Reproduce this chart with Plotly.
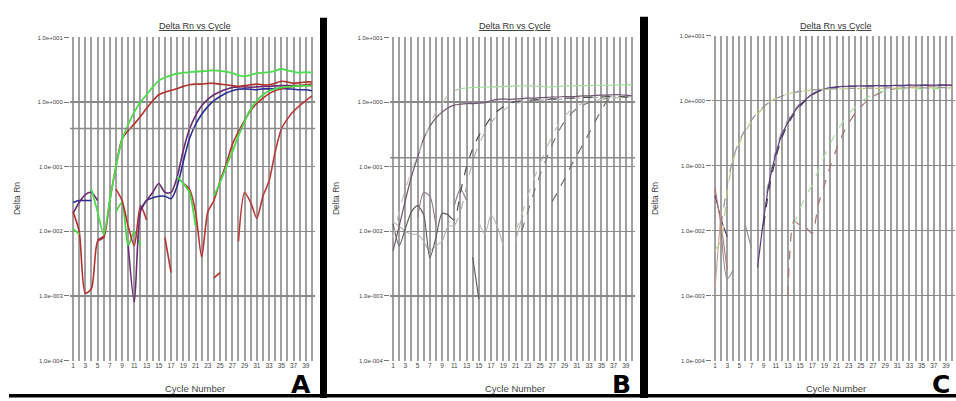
import plotly.graph_objects as go

N = None

# ---------------- data ----------------
cycles = list(range(1, 41))
x_tick_text = [str(c) if c % 2 == 1 else "" for c in cycles]
y_tick_vals = [10, 1, 0.1, 0.01, 0.001, 0.0001]
y_tick_text = ["1.0e+001", "1.0e+000", "1.0e-001", "1.0e-002", "1.0e-003", "1.0e-004"]
panel_letters = ["A", "B", "C"]
threshold_A = 0.39
threshold_B = 0.138

# Panel A
A_green_early = [0.011, 0.009, N, 0.045, 0.02, 0.009, 0.03, 0.10, 0.26, 0.45,
                 0.70, 1.00, 1.30, 1.70, 2.15, 2.40, 2.60, 2.75, 2.85, 2.90,
                 2.95, 3.00, 3.05, 3.10, 3.05, 2.95, 2.80, 2.60, 2.50, 2.65,
                 2.80, 2.85, 2.90, 3.05, 3.25, 3.10, 2.95, 2.85, 2.90, 2.85]
A_green_noise = [N, N, N, N, N, N, N, 0.02, 0.028, 0.006,
                 0.01, 0.006, N, N, N, N, N, N, N, N,
                 N, N, N, N, N, N, N, N, N, N,
                 N, N, N, N, N, N, N, N, N, N]
A_green_late = [N, N, N, N, N, N, N, N, N, N,
                N, N, N, N, N, N, N, 0.07, 0.055, 0.04,
                0.012, N, N, 0.035, 0.057, 0.10, 0.17, 0.30, 0.50, 0.78,
                1.05, 1.30, 1.50, 1.60, 1.68, 1.72, 1.75, 1.78, 1.80, 1.80]
A_red_early = [0.02, 0.01, 0.0011, 0.0013, 0.007, 0.008, 0.03, 0.10, 0.27, 0.36,
               0.46, 0.60, 0.80, 1.05, 1.30, 1.42, 1.52, 1.62, 1.75, 1.85,
               1.90, 1.90, 1.95, 1.95, 1.90, 1.85, 1.80, 1.75, 1.80, 1.85,
               1.90, 1.85, 1.85, 1.95, 2.10, 2.05, 1.95, 2.00, 2.05, 2.05]
A_red_noise = [N, N, N, N, N, N, N, 0.045, 0.03, 0.012,
               0.006, 0.025, 0.015, N, N, 0.008, 0.0023, N, N, N,
               N, N, N, 0.0019, 0.0023, N, N, N, N, N,
               N, N, N, N, N, N, N, N, N, N]
A_red_mid = [N, N, N, N, N, N, N, N, N, N,
             N, N, N, N, N, N, N, N, 0.055, 0.045,
             0.02, 0.004, 0.02, 0.03, 0.06, 0.11, 0.22, 0.35, 0.52, 0.75,
             0.95, 1.15, 1.35, 1.50, 1.60, 1.70, 1.75, 1.80, 1.85, 1.90]
A_red_late = [N, N, N, N, N, N, N, N, N, N,
              N, N, N, N, N, N, N, N, N, N,
              N, N, N, N, N, N, N, 0.007, 0.04, 0.028,
              0.016, 0.035, 0.06, 0.17, 0.38, 0.55, 0.72, 0.88, 1.05, 1.25]
A_darkred_seg = [N, N, N, N, 0.0073, 0.0083, N, N, N, N,
                 N, N, N, N, N, N, N, N, N, N,
                 N, N, N, N, N, N, N, N, N, N,
                 N, N, N, N, N, N, N, N, N, N]
A_purple = [0.019, 0.028, 0.037, 0.04, 0.03, N, N, N, N, 0.006,
            0.0008, 0.02, 0.03, 0.04, 0.055, 0.04, 0.04, 0.07, 0.18, 0.38,
            0.62, 0.88, 1.10, 1.30, 1.45, 1.58, 1.68, 1.72, 1.72, 1.70,
            1.72, 1.75, 1.75, 1.78, 1.80, 1.80, 1.80, 1.80, 1.82, 1.80]
A_blue = [0.028, 0.03, 0.03, 0.03, N, N, N, N, N, N,
          N, 0.022, 0.03, 0.033, 0.035, 0.035, 0.032, 0.05, 0.12, 0.27,
          0.45, 0.65, 0.85, 1.05, 1.22, 1.38, 1.50, 1.58, 1.60, 1.58,
          1.55, 1.60, 1.60, 1.62, 1.62, 1.60, 1.58, 1.55, 1.55, 1.50]

# Panel B
B_gray_early = [0.008, 0.02, 0.045, 0.085, 0.15, 0.25, 0.45, 0.70, 0.95, 1.30,
                1.50, 1.62, N, N, N, N, N, N, N, N,
                N, N, N, N, N, N, N, N, N, N,
                N, N, N, N, N, N, N, N, N, N]
B_green_plateau = [N, N, N, N, N, N, N, N, N, N,
                   N, 1.62, 1.65, 1.68, 1.70, 1.70, 1.72, 1.72, 1.75, 1.75,
                   1.78, 1.78, 1.80, 1.78, 1.75, 1.72, 1.72, 1.75, 1.78, 1.78,
                   1.80, 1.80, 1.80, 1.82, 1.82, 1.82, 1.82, 1.85, 1.85, 1.85]
B_dark_early = [0.005, 0.012, 0.03, 0.07, 0.14, 0.27, 0.42, 0.57, 0.70, 0.82,
                0.90, 0.93, 0.95, 0.95, 0.96, 0.98, 1.05, 1.10, 1.12, 1.10,
                1.12, 1.13, 1.15, 1.15, 1.17, 1.18, 1.20, 1.20, 1.22, 1.22,
                1.23, 1.25, 1.25, 1.27, 1.28, 1.28, 1.30, 1.30, 1.28, 1.25]
B_dark_mid = [N, N, N, N, N, N, N, N, N, 0.018,
              0.015, 0.04, 0.10, 0.19, 0.30, 0.42, 0.58, 0.72, 0.85, 0.95,
              1.02, 1.05, 1.07, 1.08, 1.10, 1.10, 1.12, 1.13, 1.15, 1.15,
              1.17, 1.18, 1.18, 1.20, 1.20, 1.22, 1.22, 1.22, 1.20, 1.20]
B_light_mid = [N, N, N, N, N, N, N, N, N, N,
               0.012, 0.02, 0.05, 0.12, 0.22, 0.34, 0.48, 0.62, 0.75, 0.86,
               0.95, 1.00, 1.02, 1.04, 1.06, 1.08, 1.10, 1.10, 1.12, 1.13,
               1.15, 1.15, 1.17, 1.18, 1.18, 1.20, 1.20, 1.22, 1.22, 1.20]
B_light_late = [N, N, N, N, N, N, N, N, N, N,
                N, N, N, N, N, N, N, N, N, N,
                0.01, 0.018, 0.035, 0.065, 0.11, 0.19, 0.30, 0.45, 0.60, 0.75,
                0.87, 0.96, 1.02, 1.06, 1.10, 1.12, 1.15, 1.17, 1.18, 1.18]
B_dark_late = [N, N, N, N, N, N, N, N, N, N,
               N, N, N, N, N, N, N, N, N, N,
               N, 0.01, 0.02, 0.04, 0.075, 0.13, 0.22, 0.35, 0.50, 0.65,
               0.80, 0.90, 0.98, 1.05, 1.10, 1.15, 1.18, 1.20, 1.22, 1.20]
B_gray_last = [N, N, N, N, N, N, N, N, N, N,
               N, N, N, N, N, N, N, N, N, N,
               N, N, N, N, N, N, 0.029, 0.043, 0.065, 0.10,
               0.15, 0.22, 0.33, 0.50, 0.75, 1.05, 1.15, 1.20, 1.20, 1.15]
B_noise_dark = [0.013, 0.006, 0.011, 0.02, 0.025, 0.018, 0.0039, 0.008, 0.019, 0.018,
                N, N, N, 0.004, 0.0009, N, N, N, N, N,
                N, N, N, N, N, N, N, N, N, N,
                N, N, N, N, N, N, N, N, N, N]
B_noise_light = [0.014, 0.012, 0.010, 0.009, 0.009, 0.007, 0.005, 0.006, 0.007, 0.012,
                 0.012, N, N, N, 0.014, 0.009, 0.018, 0.012, 0.006, N,
                 0.007, 0.016, N, N, N, N, N, N, N, N,
                 N, N, N, N, N, N, N, N, N, N]
B_noise_spike = [N, N, N, N, 0.016, 0.04, 0.035, 0.012, N, N,
                 0.025, 0.045, 0.03, N, N, N, N, N, N, N,
                 N, N, N, N, N, N, N, N, N, N,
                 N, N, N, N, N, N, N, N, N, N]

# Panel C
C_yellow_early = [0.005, 0.007, 0.04, 0.12, 0.22, 0.33, 0.48, 0.62, 0.78, 0.95,
                  1.08, 1.18, 1.27, 1.33, 1.38, 1.42, 1.45, 1.47, 1.49, 1.50,
                  1.50, 1.51, 1.52, 1.52, 1.53, 1.53, 1.54, 1.54, 1.55, 1.55,
                  1.55, 1.55, 1.56, 1.56, 1.56, 1.56, 1.57, 1.57, 1.57, 1.57]
C_gray_early = [N, 0.012, 0.05, 0.13, 0.24, 0.36, 0.50, 0.65, 0.80, 0.95,
                1.07, 1.17, 1.25, 1.32, 1.38, 1.42, 1.45, 1.48, 1.50, 1.51,
                1.52, 1.53, 1.53, 1.54, 1.54, 1.55, 1.55, 1.55, 1.56, 1.56,
                1.56, 1.56, 1.57, 1.57, 1.57, 1.57, 1.58, 1.58, 1.58, 1.58]
C_purple_mid = [N, N, N, N, N, N, N, 0.0027, 0.015, 0.06,
                0.15, 0.30, 0.46, 0.66, 0.86, 1.05, 1.25, 1.40, 1.50, 1.58,
                1.62, 1.65, 1.66, 1.67, 1.68, 1.68, 1.69, 1.70, 1.70, 1.70,
                1.71, 1.71, 1.72, 1.72, 1.72, 1.72, 1.73, 1.73, 1.73, 1.73]
C_dark_mid = [N, N, N, N, N, N, N, N, 0.012, 0.05,
              0.13, 0.27, 0.43, 0.62, 0.82, 1.02, 1.22, 1.38, 1.48, 1.56,
              1.60, 1.63, 1.65, 1.66, 1.67, 1.68, 1.68, 1.69, 1.69, 1.70,
              1.70, 1.70, 1.71, 1.71, 1.71, 1.72, 1.72, 1.72, 1.72, 1.72]
C_gray_mid = [N, N, N, N, N, N, N, N, 0.02, 0.07,
              0.17, 0.33, 0.50, 0.70, 0.90, 1.08, 1.26, 1.40, 1.50, 1.57,
              1.61, 1.63, 1.64, 1.65, 1.65, 1.66, 1.66, 1.66, 1.67, 1.67,
              1.67, 1.67, 1.68, 1.68, 1.68, 1.68, 1.68, 1.68, 1.68, 1.68]
C_green_late = [N, N, N, N, N, N, N, N, N, N,
                N, N, N, 0.012, 0.022, 0.035, 0.05, 0.085, 0.14, 0.22,
                0.33, 0.46, 0.62, 0.78, 0.95, 1.10, 1.25, 1.35, 1.42, 1.47,
                1.49, 1.50, 1.50, 1.51, 1.51, 1.52, 1.52, 1.52, 1.53, 1.53]
C_pink_late = [N, N, N, N, N, N, N, N, N, N,
               N, N, 0.001, 0.014, 0.012, 0.011, 0.009, 0.025, 0.05, 0.10,
               0.18, 0.30, 0.45, 0.62, 0.80, 0.98, 1.15, 1.30, 1.40, 1.48,
               1.53, 1.57, 1.60, 1.62, 1.64, 1.66, 1.68, 1.70, 1.72, 1.73]
C_noise_pink = [0.045, 0.012, 0.0025, N, N, N, N, N, N, N,
                N, N, N, N, N, N, N, N, N, N,
                N, N, N, N, N, N, N, N, N, N,
                N, N, N, N, N, N, N, N, N, N]
C_noise_pink2 = [0.0013, 0.02, N, N, N, N, N, N, N, N,
                 N, N, N, N, N, N, N, N, N, N,
                 N, N, N, N, N, N, N, N, N, N,
                 N, N, N, N, N, N, N, N, N, N]
C_noise_blue = [0.035, 0.015, 0.008, N, N, N, N, N, N, N,
                N, N, N, N, N, N, N, N, N, N,
                N, N, N, N, N, N, N, N, N, N,
                N, N, N, N, N, N, N, N, N, N]
C_noise_gray = [N, 0.01, 0.0018, 0.0025, N, 0.012, 0.0053, N, N, N,
                N, N, N, N, N, N, N, N, N, N,
                N, N, N, N, N, N, N, N, N, N,
                N, N, N, N, N, N, N, N, N, N]

for _arr in [A_green_early, A_green_noise, A_green_late, A_red_early, A_red_noise,
             A_red_mid, A_red_late, A_darkred_seg, A_purple, A_blue,
             B_gray_early, B_green_plateau, B_dark_early, B_dark_mid, B_light_mid,
             B_light_late, B_dark_late, B_gray_last, B_noise_dark, B_noise_light,
             B_noise_spike, C_yellow_early, C_gray_early, C_purple_mid, C_dark_mid,
             C_gray_mid, C_green_late, C_pink_late, C_noise_pink, C_noise_pink2,
             C_noise_blue, C_noise_gray]:
    assert len(_arr) == 40, len(_arr)

# ---------------- styles ----------------
W, H = 956, 401
FONT = "Liberation Sans, Arial, sans-serif"
LETTER_FONT = "DejaVu Sans, Liberation Sans, sans-serif"

series_A = [
    (A_green_noise, "#49d64a", "solid", 1.8),
    (A_red_noise, "#b8322f", "solid", 1.6),
    (A_darkred_seg, "#8a2a3a", "solid", 1.6),
    (A_blue, "#2b2c96", "solid", 1.6),
    (A_purple, "#6b2b72", "solid", 1.6),
    (A_red_late, "#b83a36", "solid", 1.6),
    (A_red_mid, "#b8322f", "solid", 1.6),
    (A_green_late, "#4ad84a", "solid", 1.8),
    (A_red_early, "#b0302e", "solid", 1.6),
    (A_green_early, "#4cdc4c", "solid", 1.8),
]
series_B = [
    (B_noise_light, "#b4b4b4", "solid", 1.1),
    (B_noise_dark, "#5a5a5a", "solid", 1.1),
    (B_noise_spike, "#8a7a8a", "solid", 1.1),
    (B_gray_last, "#6e6e6e", "dash", 1.2),
    (B_dark_late, "#7a7a7a", "dash", 1.2),
    (B_light_late, "#c4c4b4", "dash", 1.2),
    (B_light_mid, "#b0b0b0", "dash", 1.2),
    (B_dark_mid, "#4e4e4e", "dash", 1.2),
    (B_dark_early, "#6e586e", "solid", 1.2),
    (B_gray_early, "#c2c6b8", "dash", 1.2),
    (B_green_plateau, "#9edc98", "solid", 1.1),
]
series_C = [
    (C_noise_gray, "#8a8a8a", "solid", 1.1),
    (C_noise_blue, "#40407a", "solid", 1.1),
    (C_noise_pink2, "#d09a9a", "solid", 1.1),
    (C_noise_pink, "#c07070", "solid", 1.1),
    (C_pink_late, "#a87272", "dash", 1.2),
    (C_green_late, "#a8e0a8", "dash", 1.2),
    (C_gray_mid, "#9a9a9a", "dash", 1.2),
    (C_dark_mid, "#3a3a4a", "dash", 1.2),
    (C_purple_mid, "#5a3a82", "solid", 1.2),
    (C_gray_early, "#909090", "dash", 1.2),
    (C_yellow_early, "#bccc80", "dash", 1.2),
]

# pixel layout of each panel: plot-area left/right/top/bottom
panels = [
    dict(letter="A", series=series_A, left=70, right=315, top=35, bottom=363,
         ylab_x=17, threshold=threshold_A),
    dict(letter="B", series=series_B, left=390, right=635, top=35, bottom=363,
         ylab_x=336, threshold=threshold_B),
    dict(letter="C", series=series_C, left=712, right=955, top=33, bottom=363,
         ylab_x=655, threshold=None),
]


def px(x):
    return x / W


def py(y):
    return 1 - y / H


fig = go.Figure()
annotations = []
layout_axes = {}

for i, p in enumerate(panels, start=1):
    xs = "" if i == 1 else str(i)
    xref, yref = "x" + xs, "y" + xs
    for vals, color, dash, width in p["series"]:
        fig.add_trace(go.Scatter(
            x=cycles, y=vals, mode="lines", xaxis=xref, yaxis=yref,
            line=dict(color=color, dash=dash, width=width, shape="spline",
                      smoothing=0.7),
            connectgaps=False, hoverinfo="skip"))
    if p["threshold"] is not None:
        fig.add_trace(go.Scatter(
            x=[0.5, 40.5], y=[p["threshold"], p["threshold"]], mode="lines",
            xaxis=xref, yaxis=yref, line=dict(color="#8a8a8a", width=1.4),
            hoverinfo="skip"))

    layout_axes["xaxis" + xs] = dict(
        domain=[px(p["left"]), px(p["right"])], anchor=yref,
        range=[0.5, 40.5], tickmode="array", tickvals=cycles, ticktext=x_tick_text,
        showgrid=True, gridcolor="#a0a0a0", gridwidth=2, zeroline=False,
        showline=False, ticks="", tickangle=0, fixedrange=True,
        tickfont=dict(size=6.5, color="#444", family=FONT))
    layout_axes["yaxis" + xs] = dict(
        domain=[py(p["bottom"]), py(p["top"])], anchor=xref,
        type="log", range=[-4, 1], tickmode="array",
        tickvals=y_tick_vals, ticktext=y_tick_text, fixedrange=True,
        showgrid=True, gridcolor="#8a8a8a", gridwidth=1.4, zeroline=False,
        showline=False, ticks="outside", ticklen=5, tickcolor="#777",
        tickfont=dict(size=6, color="#444", family=FONT))

    cx = (p["left"] + p["right"]) / 2
    annotations += [
        dict(text="<u>Delta Rn vs Cycle</u>", x=px(cx + 2), y=py(23), xref="paper",
             yref="paper", showarrow=False, xanchor="center", yanchor="middle",
             font=dict(size=9, color="#333", family=FONT)),
        dict(text="Delta Rn", x=px(p["ylab_x"]), y=py(199), xref="paper", yref="paper",
             showarrow=False, textangle=-90, xanchor="center", yanchor="middle",
             font=dict(size=8.5, color="#444", family=FONT)),
        dict(text="Cycle Number", x=px(cx + 2), y=py(391), xref="paper", yref="paper",
             showarrow=False, xanchor="center", yanchor="middle",
             font=dict(size=9.5, color="#444", family=FONT)),
        dict(text="<b>%s</b>" % p["letter"], x=px(p["right"] - 14), y=py(387),
             xref="paper", yref="paper", showarrow=False, xanchor="center",
             yanchor="middle", font=dict(size=25, color="#000", family=LETTER_FONT)),
    ]

shapes = [
    dict(type="rect", xref="paper", yref="paper", x0=px(320), x1=px(327),
         y0=py(401), y1=py(15), fillcolor="#000", line=dict(width=0), layer="above"),
    dict(type="rect", xref="paper", yref="paper", x0=px(640), x1=px(648),
         y0=py(401), y1=py(14), fillcolor="#000", line=dict(width=0), layer="above"),
    dict(type="rect", xref="paper", yref="paper", x0=px(9), x1=px(956),
         y0=py(400.5), y1=py(397), fillcolor="#000", line=dict(width=0), layer="above"),
]

fig.update_layout(
    width=W, height=H, margin=dict(l=0, r=0, t=0, b=0),
    paper_bgcolor="white", plot_bgcolor="white", showlegend=False,
    annotations=annotations, shapes=shapes, **layout_axes)

fig.write_html(
    "out.html",
    config={"displayModeBar": False, "staticPlot": True},
    post_script="document.body.style.margin='0';document.body.style.overflow='hidden';")
